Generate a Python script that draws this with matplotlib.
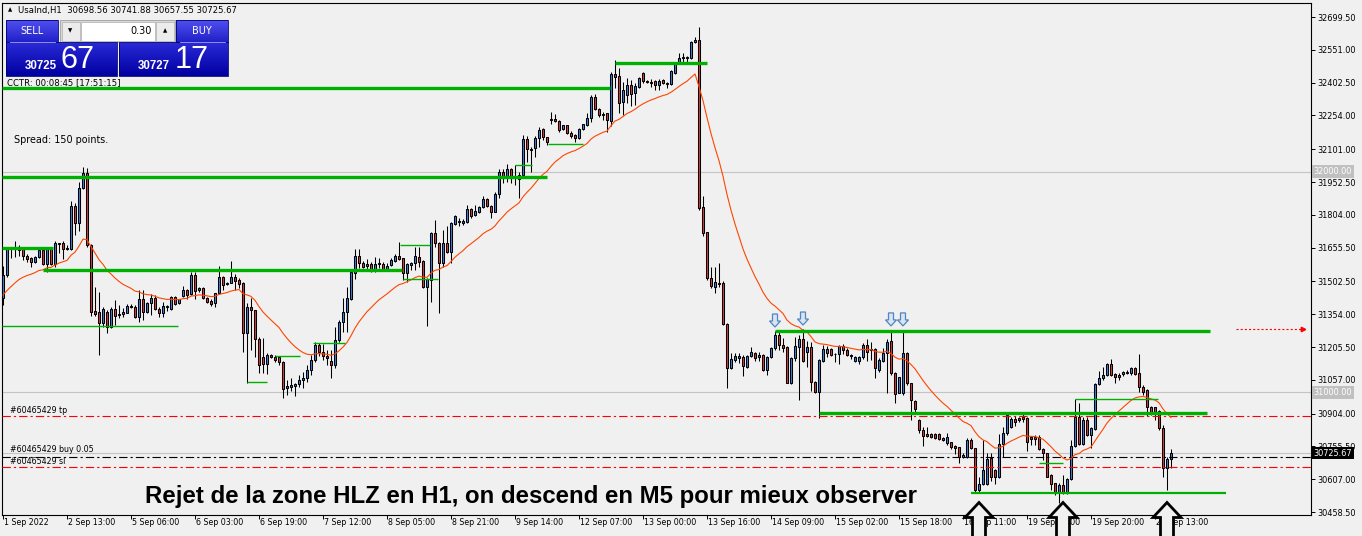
import numpy as np
import matplotlib
matplotlib.use("Agg")
import matplotlib.pyplot as plt
from matplotlib import transforms
from matplotlib.patches import Polygon, Rectangle
from matplotlib.colors import LinearSegmentedColormap

plt.rcParams['font.family'] = ['DejaVu Sans']
plt.rcParams['lines.scale_dashes'] = False

W, H, DPI = 1362, 536, 100

# ---------------- data ----------------
symbol = "UsaInd,H1"
header_ohlc = [30698.56, 30741.88, 30657.55, 30725.67]
spread_points = 150
lot = "0.30"
bid = 30725.67
ask = 30727.17
cctr = "CCTR: 00:08:45 [17:51:15]"

open_ = [31428,31532,31650,31648,31645,31649,31618,31609,31590,31613,
31645,31581,31649,31581,31676,31676,31649,31649,31844,31767,
31925,31993,31667,31369,31364,31314,31364,31296,31378,31350,
31355,31360,31391,31387,31341,31423,31364,31405,31428,31378,
31360,31391,31378,31432,31405,31437,31464,31446,31532,31464,
31473,31428,31414,31405,31450,31523,31491,31495,31523,31509,
31495,31269,31387,31373,31242,31160,31129,31169,31160,31160,
31138,31020,31025,31029,31038,31056,31065,31102,31147,31215,
31183,31165,31142,31124,31237,31319,31364,31423,31541,31618,
31586,31572,31581,31550,31581,31581,31559,31577,31595,31618,
31609,31541,31577,31586,31613,31595,31477,31509,31722,31676,
31586,31676,31636,31762,31772,31767,31772,31830,31803,31817,
31839,31876,31844,31817,31898,31998,31975,32011,31971,31966,
31984,32147,32102,32107,32152,32193,32156,32233,32238,32229,
32193,32211,32174,32165,32152,32193,32211,32242,32337,32283,
32256,32265,32229,32441,32432,32315,32346,32392,32356,32383,
32446,32410,32405,32410,32392,32414,32401,32396,32446,32491,
32514,32518,32514,32586,32595,31839,31726,31518,31477,31495,
31495,31310,31111,31147,31156,31160,31115,31165,31178,31160,
31169,31102,31160,31201,31260,31215,31206,31043,31156,31206,
31242,31183,31206,31047,31002,31142,31178,31197,31174,31174,
31210,31192,31169,31142,31142,31160,31215,31192,31197,31102,
31142,31178,31233,31088,30997,30997,31178,31043,30961,30875,
30830,30812,30812,30812,30812,30794,30771,30776,30758,30753,
30708,30708,30785,30748,30558,30585,30585,30703,30649,30617,
30767,30816,30844,30880,30875,30889,30884,30798,30798,30798,
30744,30726,30626,30590,30549,30581,30545,30608,30758,30889,
30767,30875,30807,30834,31038,31065,31079,31129,31083,31079,
31083,31088,31088,31111,31088,31025,31011,30934,30934,30916,
30839,30658,30699]

high = [31572,31658,31658,31686,31667,31658,31627,31613,31618,31649,
31654,31658,31654,31686,31676,31686,31667,31867,31858,31953,
32021,32016,31672,31477,31455,31387,31373,31387,31418,31396,
31382,31400,31400,31396,31464,31464,31409,31446,31441,31387,
31409,31396,31437,31437,31423,31482,31468,31545,31545,31477,
31477,31432,31423,31450,31572,31527,31500,31595,31536,31518,
31500,31405,31428,31373,31251,31246,31178,31174,31169,31160,
31142,31056,31065,31043,31079,31092,31124,31169,31228,31224,
31219,31192,31192,31296,31328,31428,31477,31554,31649,31649,
31595,31604,31590,31613,31609,31590,31586,31609,31627,31681,
31609,31586,31590,31658,31658,31600,31518,31726,31781,31681,
31735,31753,31772,31803,31790,31785,31848,31835,31848,31844,
31889,31880,31848,31907,32011,32011,32034,32016,32030,31998,
32165,32161,32111,32161,32202,32197,32156,32269,32260,32233,
32211,32211,32183,32170,32197,32215,32265,32346,32351,32288,
32269,32265,32451,32505,32469,32405,32423,32414,32401,32428,
32451,32414,32419,32414,32419,32419,32405,32460,32496,32537,
32537,32523,32591,32609,32654,31889,31726,31568,31568,31586,
31504,31314,31178,31178,31178,31169,31169,31206,31183,31183,
31174,31165,31206,31278,31278,31246,31210,31160,31251,31260,
31287,31233,31228,31052,31151,31215,31210,31201,31178,31215,
31219,31201,31174,31165,31165,31224,31242,31228,31201,31156,
31201,31242,31283,31092,31070,31283,31183,31043,30966,30880,
30844,30844,30816,30816,30816,30798,30816,30776,30762,30753,
30726,30794,30794,30748,30617,30785,30726,30726,30653,30812,
30844,30902,30889,30893,30889,30902,30889,30803,30807,30807,
30748,30726,30631,30590,30590,30626,30613,30785,30970,30952,
30889,30889,30844,31043,31097,31115,31133,31151,31088,31088,
31097,31102,31115,31115,31174,31034,31016,30939,30934,30920,
30853,30708,30742]

low = [31396,31523,31609,31613,31618,31600,31590,31568,31586,31609,
31577,31545,31577,31568,31631,31604,31645,31645,31713,31731,
31921,31658,31346,31346,31169,31296,31269,31292,31305,31337,
31341,31360,31382,31337,31319,31328,31360,31350,31373,31341,
31341,31369,31373,31396,31400,31432,31423,31441,31423,31455,
31423,31405,31391,31387,31446,31464,31486,31495,31464,31473,
31183,31043,31192,31160,31088,31088,31083,31156,31138,31124,
30975,30988,31006,30984,31025,31020,31047,31079,31138,31165,
31147,31124,31065,31111,31228,31274,31274,31418,31514,31563,
31563,31550,31545,31545,31563,31550,31554,31572,31590,31600,
31509,31500,31554,31554,31568,31473,31301,31409,31658,31360,
31568,31631,31586,31758,31753,31758,31767,31790,31799,31812,
31835,31839,31790,31817,31880,31948,31953,31948,31939,31880,
31975,32043,31998,32066,32111,32143,32120,32215,32224,32179,
32188,32170,32152,32134,32147,32188,32206,32224,32279,32247,
32233,32179,32206,32378,32265,32256,32310,32297,32301,32378,
32401,32401,32383,32369,32369,32396,32378,32392,32441,32487,
32496,32487,32509,32582,31826,31708,31509,31473,31450,31477,
31305,31020,31106,31138,31133,31074,31111,31160,31142,31142,
31097,31079,31156,31192,31192,31183,31043,31038,31142,30966,
31138,31115,31006,30997,30884,31138,31160,31165,31138,31129,
31174,31165,31151,31138,31129,31151,31142,31147,31065,31092,
31138,30997,31079,30952,30997,30988,31034,30875,30907,30816,
30758,30798,30794,30789,30785,30780,30762,30744,30721,30681,
30703,30703,30744,30545,30545,30581,30581,30599,30585,30613,
30708,30807,30839,30848,30866,30866,30735,30762,30762,30739,
30694,30617,30558,30536,30499,30540,30540,30603,30753,30762,
30762,30803,30748,30830,31034,31056,31074,31074,31043,31056,
31074,31083,31079,31079,31002,30988,30893,30898,30875,30830,
30617,30558,30658]

close = [31532,31654,31648,31654,31658,31618,31604,31590,31613,31645,
31581,31654,31581,31676,31672,31649,31654,31844,31767,31925,
31993,31667,31364,31355,31314,31378,31296,31378,31346,31355,
31364,31391,31387,31341,31423,31364,31405,31428,31378,31360,
31391,31387,31432,31400,31423,31464,31441,31532,31459,31473,
31428,31409,31400,31450,31523,31486,31495,31523,31504,31491,
31269,31387,31373,31242,31124,31129,31169,31160,31147,31138,
31016,31029,31034,31038,31056,31065,31102,31147,31215,31183,
31165,31156,31124,31237,31319,31364,31428,31545,31618,31586,
31568,31581,31550,31581,31586,31559,31572,31600,31618,31604,
31541,31581,31586,31618,31590,31477,31514,31722,31676,31586,
31676,31636,31767,31799,31776,31776,31830,31799,31821,31839,
31876,31844,31817,31898,31998,31975,32011,31971,31975,31984,
32147,32102,32098,32152,32188,32156,32134,32238,32229,32188,
32211,32174,32161,32152,32193,32215,32242,32337,32283,32256,
32260,32233,32441,32428,32310,32369,32392,32351,32387,32423,
32410,32405,32401,32392,32410,32401,32396,32455,32491,32514,
32518,32514,32586,32595,31835,31722,31518,31482,31500,31491,
31310,31111,31151,31165,31165,31120,31165,31183,31156,31169,
31102,31160,31201,31260,31215,31201,31043,31156,31210,31242,
31142,31206,31047,31002,31147,31197,31197,31169,31174,31210,
31192,31169,31165,31160,31160,31215,31183,31197,31111,31147,
31178,31228,31088,30993,31070,31178,31043,30966,30925,30830,
30803,30803,30798,30794,30789,30785,30798,30753,30748,30708,
30717,30785,30748,30558,30585,30649,30699,30617,30617,30767,
30816,30898,30880,30866,30884,30880,30776,30789,30789,30744,
30726,30617,30585,30549,30581,30545,30608,30758,30889,30767,
30875,30807,30839,31038,31065,31079,31129,31079,31070,31070,
31092,31092,31111,31083,31025,31002,30934,30911,30911,30839,
30658,30699,30726]

x_labels = ["1 Sep 2022", "2 Sep 13:00", "5 Sep 06:00", "6 Sep 03:00", "6 Sep 19:00",
            "7 Sep 12:00", "8 Sep 05:00", "8 Sep 21:00", "9 Sep 14:00", "12 Sep 07:00",
            "13 Sep 00:00", "13 Sep 16:00", "14 Sep 09:00", "15 Sep 02:00", "15 Sep 18:00",
            "16 Sep 11:00", "19 Sep 04:00", "19 Sep 20:00", "20 Sep 13:00"]
bars_per_label = 16

y_ticks = [32699.50, 32551.00, 32402.50, 32254.00, 32101.00, 31952.50, 31804.00, 31655.50,
           31502.50, 31354.00, 31205.50, 31057.00, 30904.00, 30755.50, 30607.00, 30458.50]
price_min, price_max = 30445.1, 32762.9
bars_visible = 327

ma_period = 20
ma_first = 31441

round_levels = [32000.0, 31000.0]
order_id = "#60465429"
order_open = 30709.0
order_lots = 0.05
order_tp = 30895.5
order_sl = 30661.0
alert_price = 31285.0
alert_span = (308.25, 325.0)

# (price, first bar, last bar)
zones_thick = [(32378, -0.25, 151.75), (32490, 153, 176), (31977, -0.25, 136),
               (31654, -0.25, 12.5), (31554, 10, 99.75), (31276, 193, 301.75),
               (30907, 204, 301)]
zones_medium = [(30543, 242, 305.75)]
zones_thin = [(31301, -0.25, 43.75), (31047, 61, 66), (31166, 68, 74.25),
              (31224, 77.5, 85.5),
              (32125, 136.25, 145), (32030, 128, 132.25), (31667, 99.25, 106.75),
              (31514, 100, 108.75), (30970, 268, 288.75), (30680, 259, 265)]

rejection_bars = [193, 200, 222, 225]
support_bars = [244, 265, 291]

title_text = "Rejet de la zone HLZ en H1, on descend en M5 pour mieux observer"

# ---------------- figure ----------------
BG = "#f0f0f0"
fig = plt.figure(figsize=(W / DPI, H / DPI), dpi=DPI, facecolor=BG)
ax = fig.add_axes([2 / W, (H - 515) / H, (1311 - 2) / W, (515 - 3) / H], facecolor=BG)

o = np.array(open_, float); hi = np.array(high, float)
lo = np.array(low, float); c = np.array(close, float)
n = len(c)
x = np.arange(n)
hi2 = np.maximum(hi, np.maximum(o, c))
lo2 = np.minimum(lo, np.minimum(o, c))

ax.vlines(x, lo2, hi2, color="black", lw=0.75, zorder=3)
up = c >= o
bot = np.minimum(o, c)
hgt = np.abs(c - o)
ax.bar(x[up], hgt[up], bottom=bot[up], width=0.52, color="#3b7fd9",
       edgecolor="black", linewidth=0.75, zorder=4)
ax.bar(x[~up], hgt[~up], bottom=bot[~up], width=0.52, color="#d63a3a",
       edgecolor="black", linewidth=0.75, zorder=4)

# EMA
alpha = 2.0 / (ma_period + 1)
ma = np.empty(n)
ma[0] = ma_first
for i in range(1, n):
    ma[i] = ma[i - 1] + alpha * (c[i] - ma[i - 1])
ax.plot(x, ma, color="#ff4500", lw=0.8, zorder=6)

# round number and bid lines
for lv in round_levels:
    ax.axhline(lv, color="#c4c4c4", lw=0.8, zorder=1)
ax.axhline(bid, color="#c4c4c4", lw=0.8, zorder=1)

# zones
GREEN = "#00b000"
for p, s, e in zones_thick:
    ax.hlines(p, s, e, color=GREEN, lw=2.4, zorder=7)
for p, s, e in zones_medium:
    ax.hlines(p, s, e, color=GREEN, lw=1.6, zorder=7)
for p, s, e in zones_thin:
    ax.hlines(p, s, e, color=GREEN, lw=1.0, zorder=7)

# order lines
dd = (6, 2.2, 1.6, 2.2)
ax.axhline(order_tp, color="red", lw=0.8, dashes=dd, zorder=5)
ax.axhline(order_sl, color="red", lw=0.8, dashes=dd, zorder=5)
ax.axhline(order_open, color="black", lw=0.8, dashes=dd, zorder=5)
lblkw = dict(fontsize=5.7, va="bottom", ha="left", textcoords="offset points", zorder=8)
ax.annotate(f"{order_id} tp", (1.75, order_tp), xytext=(0, 0.6), **lblkw)
ax.annotate(f"{order_id} buy {order_lots:.2f}", (1.75, order_open), xytext=(0, 2.2), **lblkw)
ax.annotate(f"{order_id} sl", (1.75, order_sl), xytext=(0, 0.6), **lblkw)

# alert arrow
ax.plot(list(alert_span), [alert_price, alert_price], color="red", lw=0.8, dashes=(1.5, 1.5), zorder=5)
ax.plot([alert_span[1]], [alert_price], marker=">", ms=3.2, color="red", clip_on=False, zorder=5)

ax.set_xlim(-0.25, bars_visible)
ax.set_ylim(price_min, price_max)

# axes styling
for s in ax.spines.values():
    s.set_color("black"); s.set_linewidth(0.8)
ax.set_xticks(np.arange(0, len(x_labels) * bars_per_label, bars_per_label))
ax.set_xticklabels(x_labels)
ax.tick_params(axis="x", direction="out", length=3, width=0.7, pad=-0.5, labelsize=5.7)
off = transforms.ScaledTranslation(1.5 / DPI, 0, fig.dpi_scale_trans)
for t in ax.get_xticklabels():
    t.set_horizontalalignment("left")
    t.set_transform(t.get_transform() + off)
ax.yaxis.tick_right()
ax.set_yticks(y_ticks)
ax.set_yticklabels([f"{v:.2f}" for v in y_ticks])
ax.tick_params(axis="y", direction="out", length=3, width=0.7, pad=1.6, labelsize=5.9)

btr = transforms.blended_transform_factory(ax.transAxes, ax.transData)
for lv in round_levels:
    ax.text(1.0018, lv, f"{lv:.2f}", transform=btr, fontsize=5.9, color="white", va="center",
            ha="left", zorder=9, bbox=dict(boxstyle="square,pad=0.22", fc="#c0c0c0", ec="none"))
ax.text(1.0018, bid, f"{bid:.2f}", transform=btr, fontsize=5.9, color="white", va="center",
        ha="left", zorder=9, bbox=dict(boxstyle="square,pad=0.22", fc="black", ec="none"))

# ---------------- overlay (pixel coordinates) ----------------
ov = fig.add_axes([0, 0, 1, 1], zorder=5)
ov.patch.set_visible(False)
ov.axis("off")


def grad_rect(x0, y0, x1, y1, ctop, cbot, z=3):
    cmap = LinearSegmentedColormap.from_list("g", [ctop, cbot])
    ov.imshow(np.linspace(0, 1, 64).reshape(-1, 1), extent=(x0, x1, y1, y0), cmap=cmap,
              aspect="auto", interpolation="bilinear", zorder=z)
    ov.add_patch(Rectangle((x0, y0), x1 - x0, y1 - y0, fill=False, ec="#000070", lw=0.6, zorder=z + 0.1))


grad_rect(6, 20, 58, 42, "#5050f0", "#2020c8")
grad_rect(176, 20, 228, 42, "#5050f0", "#2020c8")
grad_rect(6, 42, 117, 76, "#2a2ad8", "#0000a0")
grad_rect(119, 42, 228, 76, "#2a2ad8", "#0000a0")
ov.plot([10, 55], [41.5, 41.5], color="#a8a8ff", lw=0.6, zorder=4)
ov.plot([180, 225], [41.5, 41.5], color="#a8a8ff", lw=0.6, zorder=4)
ov.add_patch(Rectangle((60, 20), 115, 22, fc="#d8d8d8", ec="#a0a0a0", lw=0.6, zorder=3))
ov.add_patch(Rectangle((61.5, 21.5), 18, 19, fc="#ececec", ec="#b0b0b0", lw=0.5, zorder=3.2))
ov.add_patch(Rectangle((81, 21.5), 74, 19, fc="white", ec="#b0b0b0", lw=0.5, zorder=3.2))
ov.add_patch(Rectangle((156, 21.5), 18, 19, fc="#ececec", ec="#b0b0b0", lw=0.5, zorder=3.2))
ov.text(70.5, 30.5, "▼", fontsize=4, ha="center", va="center", zorder=4)
ov.text(165, 30.5, "▲", fontsize=4, ha="center", va="center", zorder=4)
ov.text(152, 31, lot, fontsize=7, ha="right", va="center", zorder=4)
ov.text(32, 31, "SELL", fontsize=7, color="white", ha="center", va="center", zorder=4)
ov.text(202, 31, "BUY", fontsize=7, color="white", ha="center", va="center", zorder=4)
bid_s = f"{bid:.2f}"; ask_s = f"{ask:.2f}"
ov.text(57, 66, bid_s[:5], fontsize=8.3, color="white", weight="bold", family="Liberation Sans",
        ha="right", va="center", zorder=4)
ov.text(61, 59.5, bid_s[6:8], fontsize=22, color="white", family="Liberation Sans",
        ha="left", va="center", zorder=4)
ov.text(170, 66, ask_s[:5], fontsize=8.3, color="white", weight="bold", family="Liberation Sans",
        ha="right", va="center", zorder=4)
ov.text(175, 59.5, ask_s[6:8], fontsize=22, color="white", family="Liberation Sans",
        ha="left", va="center", zorder=4)
ov.text(7, 83, cctr, fontsize=6.1, ha="left", va="center", zorder=4)
ov.text(8, 10, "▲", fontsize=4, ha="left", va="center", zorder=4)
ov.text(18, 10.5, f"{symbol}  " + " ".join(f"{v:.2f}" for v in header_ohlc), fontsize=6.1,
        ha="left", va="center", zorder=4)
ov.text(14, 140, f"Spread: {spread_points} points.", fontsize=6.9, ha="left", va="center", zorder=4)
ov.text(145, 497, title_text, fontsize=17.3, weight="bold", family="Liberation Sans",
        ha="left", va="center", zorder=4)

ov.set_xlim(0, W)
ov.set_ylim(H, 0)


def px_poly(target, anchor_tr, ax_x, ax_y, verts, **kw):
    tr = fig.dpi_scale_trans + transforms.ScaledTranslation(ax_x, ax_y, anchor_tr)
    poly = Polygon(np.array(verts, float) / DPI, closed=True, transform=tr, clip_on=False, **kw)
    target.add_artist(poly)


down_v = [(0, 4), (-5.5, 10), (-2.5, 10), (-2.5, 17), (2.5, 17), (2.5, 10), (5.5, 10)]
for b in rejection_bars:
    px_poly(ax, ax.transData, b, hi2[b], down_v, fc="#dde3ea", ec="#4a86c8", lw=0.9, zorder=9)

up_v = [(0, 0), (14, -15), (6.5, -15), (6.5, -42), (-6.5, -42), (-6.5, -15), (-14, -15)]
blend = transforms.blended_transform_factory(ax.transData, ov.transData)
for b in support_bars:
    px_poly(ov, blend, b, 502.5, up_v, fc=BG, ec="black", lw=2.0, zorder=6)

fig.savefig("out.png", dpi=DPI, facecolor=BG)
